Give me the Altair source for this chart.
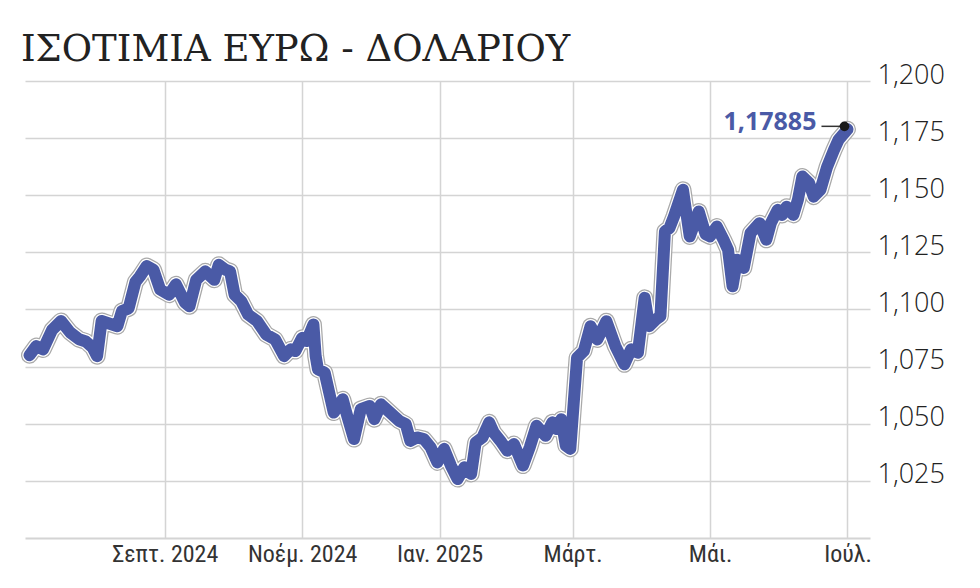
import altair as alt
import pandas as pd

# days since 2024-07-01 and EUR/USD value
days = [2, 5, 8, 12, 16, 20, 24, 27, 30, 32, 34, 37, 41, 43, 46, 49, 51, 54, 57, 60,
        64, 67, 71, 73, 76, 80, 84, 86, 89, 91, 93, 96, 99, 103, 107, 111, 115, 118, 120, 123,
        125, 128, 129, 130, 133, 137, 141, 143, 146, 149, 153, 155, 158, 162, 166, 169, 171, 174, 177, 180,
        183, 186, 189, 192, 195, 198, 200, 203, 206, 208, 211, 214, 217, 221, 224, 227, 231, 234, 236, 238,
        240, 242, 245, 248, 251, 254, 258, 262, 266, 269, 272, 275, 277, 280, 282, 284, 286, 288, 292, 295,
        299, 302, 304, 307, 310, 312, 314, 316, 319, 322, 326, 329, 331, 334, 336, 338, 341, 343, 345, 348,
        350, 353, 356, 359, 361, 365]
rates = [1.0800, 1.0840, 1.0825, 1.0910, 1.0950, 1.0900, 1.0870, 1.0860, 1.0834, 1.0796,
         1.0950, 1.0940, 1.0927, 1.0993, 1.1005, 1.1120, 1.1145, 1.1190, 1.1174, 1.1087,
         1.1065, 1.1110, 1.1030, 1.1014, 1.1130, 1.1167, 1.1130, 1.1196, 1.1174, 1.1167,
         1.1065, 1.1036, 1.0978, 1.0949, 1.0891, 1.0869, 1.0796, 1.0826, 1.0818, 1.0876,
         1.0862, 1.0934, 1.0796, 1.0738, 1.0724, 1.0549, 1.0607, 1.0534, 1.0433, 1.0564,
         1.0578, 1.0520, 1.0585, 1.0549, 1.0513, 1.0498, 1.0425, 1.0440, 1.0433, 1.0397,
         1.0331, 1.0390, 1.0317, 1.0258, 1.0310, 1.0280, 1.0418, 1.0440, 1.0506, 1.0462,
         1.0425, 1.0382, 1.0411, 1.0317, 1.0397, 1.0491, 1.0447, 1.0506, 1.0477, 1.0520,
         1.0404, 1.0390, 1.0789, 1.0818, 1.0927, 1.0869, 1.0949, 1.0840, 1.0760, 1.0826,
         1.0811, 1.1051, 1.0927, 1.0956, 1.0971, 1.1342, 1.1356, 1.1407, 1.1524, 1.1320,
         1.1429, 1.1330, 1.1320, 1.1363, 1.1305, 1.1262, 1.1102, 1.1218, 1.1182, 1.1335,
         1.1378, 1.1305, 1.1378, 1.1436, 1.1414, 1.1450, 1.1414, 1.1480, 1.1582, 1.1553,
         1.1494, 1.1524, 1.1625, 1.1698, 1.1742, 1.17885]

y_ticks = [1.025, 1.050, 1.075, 1.100, 1.125, 1.150, 1.175, 1.200]
x_tick_dates = [(2024, 9), (2024, 11), (2025, 1), (2025, 3), (2025, 5), (2025, 7)]
x_tick_labels = ["Σεπτ. 2024", "Νοέμ. 2024", "Ιαν. 2025", "Μάρτ.", "Μάι.", "Ιούλ."]
last_label = "1,17885"

start = pd.Timestamp("2024-07-01")
df = pd.DataFrame({"date": [start + pd.Timedelta(days=d) for d in days], "rate": rates})
last = df.tail(1).assign(label=last_label)

BLUE = "#4a5aa6"

label_expr = ""
for (yr, mo), lab in zip(x_tick_dates, x_tick_labels):
    label_expr += f"(year(datum.value)=={yr} && month(datum.value)=={mo - 1}) ? '{lab}' : "
label_expr += "''"

x_enc = alt.X(
    "date:T",
    scale=alt.Scale(domain=[alt.DateTime(year=2024, month=7, date=1),
                            alt.DateTime(year=2025, month=7, date=11)]),
    axis=alt.Axis(
        values=[alt.DateTime(year=y, month=m, date=1) for y, m in x_tick_dates],
        labelExpr=label_expr, title=None, ticks=False,
        domainColor="#d4d4d4", domainWidth=2,
        gridColor="#d4d4d4", gridWidth=1.5,
        labelFont="Liberation Sans Narrow, Roboto Condensed, DejaVu Sans Condensed, Roboto",
        labelFontSize=24, labelColor="#333333", labelPadding=4,
    ),
)
y_enc = alt.Y(
    "rate:Q",
    scale=alt.Scale(domain=[1.0, 1.2], nice=False, zero=False),
    axis=alt.Axis(
        orient="right", values=y_ticks, title=None, ticks=False, domain=False,
        labelExpr="replace(format(datum.value, '.3f'), '.', ',')",
        gridColor="#d4d4d4", gridWidth=1.5,
        labelFont="Open Sans", labelFontWeight=300, labelFontSize=27, labelColor="#222222",
        labelPadding=7, labelOffset=-6,
    ),
)

base = alt.Chart(df).encode(x=x_enc, y=y_enc)
outline = base.mark_line(color="#a9a9a9", strokeWidth=17, strokeCap="round", strokeJoin="round")
halo = base.mark_line(color="#ffffff", strokeWidth=14.5, strokeCap="round", strokeJoin="round")
core = base.mark_line(color=BLUE, strokeWidth=12, strokeCap="round", strokeJoin="round")

lb = alt.Chart(last).encode(x="date:T", y="rate:Q")
leader = lb.mark_rule(color="#333333", strokeWidth=1.5, xOffset=-26, x2Offset=-4, yOffset=-3, y2Offset=-3).encode(
    x2="date:T", y2="rate:Q")
dot = lb.mark_circle(color="#1a1a1a", size=95, opacity=1, xOffset=-3, yOffset=-3)
txt = lb.mark_text(align="right", baseline="middle", dx=-31, dy=-7, font="Noto Sans",
                   fontWeight="bold", fontSize=25, color=BLUE).encode(text="label:N")

chart = (
    alt.layer(outline, halo, core, leader, dot, txt)
    .properties(
        width=845, height=457,
        title=alt.TitleParams(
            "ΙΣΟΤΙΜΙΑ ΕΥΡΩ - ΔΟΛΑΡΙΟΥ", anchor="start",
            font="DejaVu Serif, Liberation Serif, serif",
            fontSize=37, fontWeight="normal", color="#222222", offset=19,
            baseline="alphabetic", dy=56,
        ),
        autosize=alt.AutoSizeParams(type="none"),
        padding={"left": 25, "top": 81, "right": 110, "bottom": 50},
        background="white",
    )
    .configure_view(stroke=None)
)

chart.save("out.html", embed_options={"renderer": "svg", "actions": False})
